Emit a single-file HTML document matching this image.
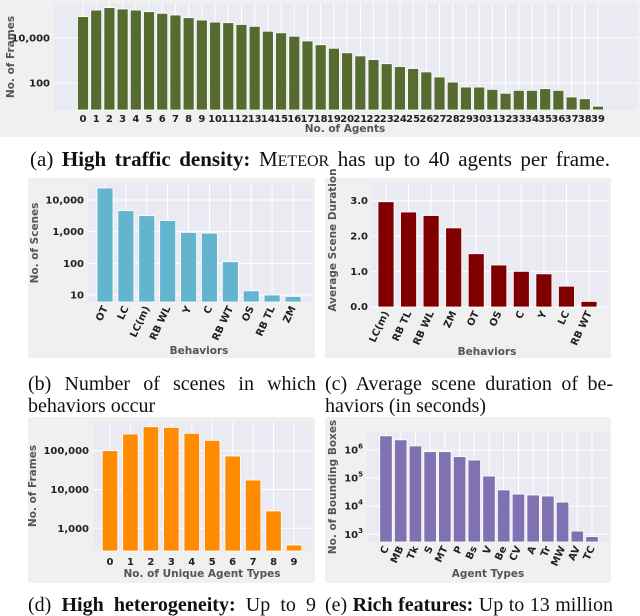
<!DOCTYPE html>
<html><head><meta charset="utf-8">
<style>
body{margin:0;background:#fff;width:640px;height:614px;overflow:hidden;position:relative;font-family:"Liberation Serif",serif;}
svg{position:absolute;left:0;top:0;}
.cap{position:absolute;font-family:"Liberation Serif",serif;font-size:20px;color:#111;line-height:22px;text-align:justify;text-align-last:justify;}
.cap2{text-align-last:left;}
.tk{font-family:"DejaVu Sans",sans-serif;font-weight:bold;font-size:10px;fill:#222;}
.ax{font-family:"DejaVu Sans",sans-serif;font-weight:bold;font-size:10.5px;fill:#555;}
</style></head><body>
<svg id="fig" width="640" height="614"></svg>
<div class="cap" style="left:30px;top:148px;width:580px;font-size:21px;">(a) <b>High traffic density:</b> M<span style="font-size:16px">ETEOR</span> has up to 40 agents per frame.</div>
<div class="cap cap2" style="left:28px;top:373px;width:288px;">(b) Number of scenes in which behaviors occur</div>
<div class="cap cap2" style="left:325px;top:373px;width:288px;">(c) Average scene duration of be-haviors (in seconds)</div>
<div class="cap" style="left:28px;top:594px;width:288px;">(d) <b>High heterogeneity:</b> Up to 9</div>
<div class="cap" style="left:325px;top:594px;width:288px;">(e) <b>Rich features:</b> Up to 13 million</div>
<script>
// ---- data (a)
const aCats=["0","1","2","3","4","5","6","7","8","9","10","11","12","13","14","15","16","17","18","19","20","21","22","23","24","25","26","27","28","29","30","31","32","33","34","35","36","37","38","39"];
const aVals=[89000,174000,224000,195000,174000,148000,125000,105000,80000,63000,51000,48000,40000,33000,20000,17000,12000,7400,5000,3500,2200,1600,1100,720,540,440,310,185,110,66,66,52,35,47,47,56,47,24,20,9.3];
const aTickVals=[100,10000];
const aTickLabels=["100","10,000"];
// ---- data (b)
const bCats=["OT","LC","LC(m)","RB WL","Y","C","RB WT","OS","RB TL","ZM"];
const bVals=[24000,4600,3200,2250,950,900,112,13.5,10,9];
const bTickVals=[10,100,1000,10000];
const bTickLabels=["10","100","1,000","10,000"];
// ---- data (c)
const cCats=["LC(m)","RB TL","RB WL","ZM","OT","OS","C","Y","LC","RB WT"];
const cVals=[2.97,2.68,2.58,2.23,1.5,1.18,1.0,0.93,0.58,0.15];
const cTickVals=[0,1,2,3];
const cTickLabels=["0.0","1.0","2.0","3.0"];
// ---- data (d)
const dCats=["0","1","2","3","4","5","6","7","8","9"];
const dVals=[100000,270000,415000,400000,280000,185000,73000,17500,2800,370];
const dTickVals=[1000,10000,100000];
const dTickLabels=["1,000","10,000","100,000"];
// ---- data (e)
const eCats=["C","MB","Tk","S","MT","P","Bs","V","Be","CV","A","Tr","MW","AV","TC"];
const eVals=[3200000,2300000,1400000,870000,870000,580000,440000,118000,38000,27000,25000,23000,14000,1300,830];
const eTickVals=[1000,10000,100000,1000000];
const eTickLabels=["3","4","5","6"];

const NS="http://www.w3.org/2000/svg";
const fig=document.getElementById('fig');
function mk(tag,attrs,parent){const e=document.createElementNS(NS,tag);for(const k in attrs)e.setAttribute(k,attrs[k]);(parent||fig).appendChild(e);return e;}

function chart(o){
  const g=mk('g',{});
  
  
  const panel=mk('rect',{x:o.px,y:o.py,width:o.pw,height:o.ph,fill:'#f0f0f0'},g);
  
  
  const plot=mk('rect',{x:o.x0,y:o.y0,width:o.x1-o.x0,height:o.y1-o.y0,fill:'#eaeaf2'},g);
  
  
  const yf=v=>{const t=o.log?Math.log10(v):v;return o.yRef0+(t-o.tRef0)*(o.yRef1-o.yRef0)/(o.tRef1-o.tRef0);};
  const n=o.cats.length;
  const xf=i=>o.c0+(o.cN-o.c0)*i/(n-1);
  o.tickVals.forEach((v,i)=>{
    const y=yf(v);
    const gl=mk('line',{x1:o.x0,x2:o.x1,y1:y,y2:y,stroke:'#fff','stroke-width':1},g);
    
    
    const t=mk('text',{x:o.x0-4,y:y+3.5,'text-anchor':'end','class':'tk'},g);
    
    
    if(o.sup){t.textContent='10';const s=mk('tspan',{dy:-5,'font-size':7},t);s.textContent=o.tickLabels[i];}
    else t.textContent=o.tickLabels[i];
  });
  o.cats.forEach((c,i)=>{
    const x=xf(i);
    const gl=mk('line',{x1:x,x2:x,y1:o.y0,y2:o.y1,stroke:'#fff','stroke-width':1},g);
    
    
  });
  o.cats.forEach((c,i)=>{
    const x=xf(i);const top=yf(o.vals[i]);
    const b=mk('rect',{x:x-o.bw/2,y:top,width:o.bw,height:o.y1-top,fill:o.color,stroke:'#fff','stroke-width':0.8},g);
    
    
    let t;
    if(o.rot){
      t=mk('text',{x:x+3,y:o.y1+6,'text-anchor':'end','class':'tk',transform:`rotate(-65 ${x+3} ${o.y1+6})`},g);
    } else {
      t=mk('text',{x:x,y:o.y1+o.lblDy,'text-anchor':'middle','class':'tk'},g);
    }
    
    
    t.textContent=c;
  });
  const xt=mk('text',{x:o.xtx,y:o.xty,'text-anchor':'middle','class':'ax'},g);
  
  
  xt.textContent=o.xtitle;
  const yt=mk('text',{x:o.ytx,y:o.yty,'text-anchor':'middle','class':'ax',transform:`rotate(-90 ${o.ytx} ${o.yty})`},g);
  
  
  yt.textContent=o.ytitle;
}

chart({name:'chart-a',px:0,py:0,pw:640,ph:137,x0:54,x1:637,y0:3,y1:110,log:true,yRef0:83,tRef0:2,yRef1:38,tRef1:4,
  cats:aCats,vals:aVals,tickVals:aTickVals,tickLabels:aTickLabels,c0:83,cN:598,bw:11,color:'#556b2f',lblDy:12,
  xtitle:'No. of Agents',xtx:345,xty:132,ytitle:'No. of Frames',ytx:14,yty:57});
chart({name:'chart-b',px:28,py:178,pw:287,ph:180,x0:88,x1:312,y0:183,y1:302,log:true,yRef0:295,tRef0:1,yRef1:200,tRef1:4,
  cats:bCats,vals:bVals,tickVals:bTickVals,tickLabels:bTickLabels,c0:105,cN:293,bw:16,color:'#62b4cf',rot:true,
  xtitle:'Behaviors',xtx:199,xty:354,ytitle:'No. of Scenes',ytx:38,yty:243});
chart({name:'chart-c',px:325,py:178,pw:286,ph:180,x0:372,x1:608,y0:183,y1:307,log:false,yRef0:306.7,tRef0:0,yRef1:200.7,tRef1:3,
  cats:cCats,vals:cVals,tickVals:cTickVals,tickLabels:cTickLabels,c0:386,cN:589,bw:16,color:'#800000',rot:true,
  xtitle:'Behaviors',xtx:487,xty:355,ytitle:'Average Scene Duration',ytx:336,yty:240});
chart({name:'chart-d',px:28,py:417,pw:287,ph:166,x0:93,x1:312,y0:422,y1:551,log:true,yRef0:528.3,tRef0:3,yRef1:450.7,tRef1:5,
  cats:dCats,vals:dVals,tickVals:dTickVals,tickLabels:dTickLabels,c0:110,cN:294,bw:15.5,color:'#ff8c00',lblDy:14,
  xtitle:'No. of Unique Agent Types',xtx:202,xty:577,ytitle:'No. of Frames',ytx:36,yty:486});
chart({name:'chart-e',px:325,py:417,pw:286,ph:166,x0:367,x1:609,y0:431,y1:542,log:true,yRef0:534.3,tRef0:3,yRef1:450,tRef1:6,
  cats:eCats,vals:eVals,tickVals:eTickVals,tickLabels:eTickLabels,sup:true,c0:386,cN:592,bw:12.5,color:'#8072b2',rot:true,
  xtitle:'Agent Types',xtx:488,xty:577,ytitle:'No. of Bounding Boxes',ytx:336,yty:487});
</script>
</body></html>
